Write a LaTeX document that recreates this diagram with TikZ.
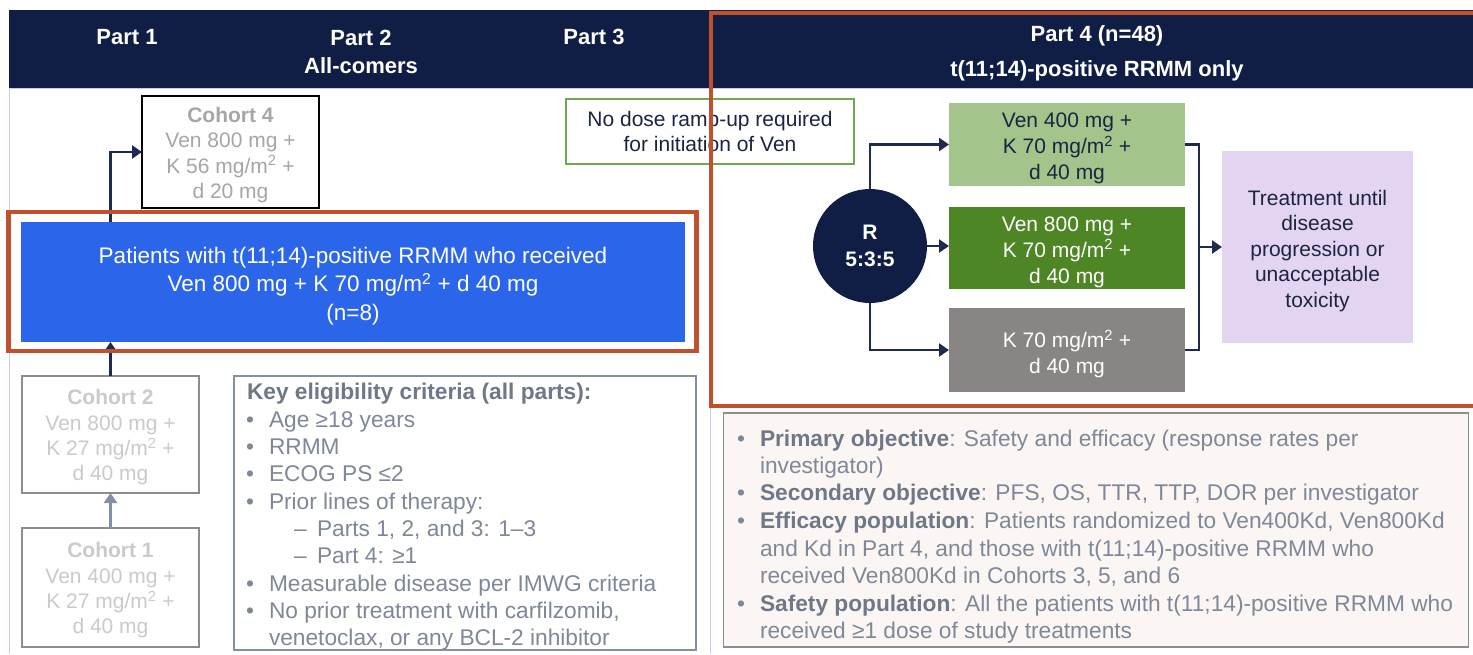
\documentclass[tikz,border=0pt]{standalone}
\usepackage{fontspec}
\setmainfont{Liberation Sans}
\usetikzlibrary{arrows.meta}

\definecolor{navy}{HTML}{101D45}
\definecolor{linknavy}{HTML}{1E2A50}
\definecolor{rust}{HTML}{C1502D}
\definecolor{royal}{HTML}{2B66EA}
\definecolor{sage}{HTML}{A3C48B}
\definecolor{leaf}{HTML}{4E8525}
\definecolor{stone}{HTML}{8A8585}
\definecolor{lilac}{HTML}{E3D4F2}
\definecolor{notegreen}{HTML}{70A852}
\definecolor{framelin}{HTML}{C9CCEA}
\definecolor{slatetext}{HTML}{7E8898}
\definecolor{slatebold}{HTML}{6E7888}
\definecolor{slateline}{HTML}{8290A6}
\definecolor{objfill}{HTML}{FBF6F4}
\definecolor{objline}{HTML}{8E8E8E}
\definecolor{darktext}{HTML}{1B2542}
\definecolor{cohfour}{HTML}{A6A6A6}
\definecolor{cohpale}{HTML}{CACACA}
\definecolor{cohline}{HTML}{8C8C8C}
\definecolor{arrowgray}{HTML}{8090A8}

\begin{document}
\begin{tikzpicture}[x=1pt,y=-1pt,
  every node/.style={inner sep=0pt, outer sep=0pt},
  hdr/.style={font=\fontsize{22}{28}\selectfont\bfseries, text=white, align=center},
  cohortbox/.style={draw, line width=1.2pt, minimum width=177pt},
  cohorttext/.style={align=center, font=\fontsize{21}{25.3}\selectfont, yshift=-3pt},
  armbox/.style={minimum width=236pt},
  armtext/.style={align=center, font=\fontsize{21}{26}\selectfont, yshift=-4pt},
  conn/.style={draw=linknavy, line width=2.4pt, -{Triangle[length=10pt,width=13pt]}},
  joinline/.style={draw=linknavy, line width=2.4pt},
  eline/.style={anchor=base west, font=\fontsize{22.7}{27}\selectfont, text=slatetext},
]
\clip (0,0) rectangle (1473,654);
\fill[white] (0,0) rectangle (1473,654);

% faint table rules
\draw[framelin, line width=1pt] (9,88) -- (9,654);
\draw[framelin, line width=1pt] (9,88) -- (1473,88);
\draw[framelin, line width=1pt] (710,88) -- (710,654);

% header band
\fill[navy] (9,10) rectangle (1473,88);
\node[hdr] (p1) at (127,37) {Part 1};
\node[hdr] (p2) at (361,51.5) {Part 2\\All-comers};
\node[hdr] (p3) at (594,37) {Part 3};
\node[hdr, font=\fontsize{22}{35}\selectfont\bfseries] (p4) at (1097,53)
  {Part 4 (n=48)\\t(11;14)-positive RRMM only};

% left column: cohorts and the Part 2 population
\node[cohortbox, draw=black, minimum height=112pt] (coh4) at (230.5,152) {};
\node[cohorttext, text=cohfour] (coh4t) at (coh4.center)
  {\textbf{Cohort 4}\\Ven 800 mg +\\K 56 mg/m\textsuperscript{2} +\\d 20 mg};
\node[fill=royal, minimum width=664pt, minimum height=120pt] (pop) at (353,282) {};
\node[align=center, text=white, font=\fontsize{22.5}{28.5}\selectfont, yshift=-4pt] (popt) at (pop.center)
  {Patients with t(11;14)-positive RRMM who received\\Ven 800 mg + K 70 mg/m\textsuperscript{2} + d 40 mg\\(n=8)};
\node[cohortbox, draw=cohline, minimum height=117pt] (coh2) at (110.5,434.5) {};
\node[cohorttext, text=cohpale] (coh2t) at (coh2.center)
  {\textbf{Cohort 2}\\Ven 800 mg +\\K 27 mg/m\textsuperscript{2} +\\d 40 mg};
\node[cohortbox, draw=cohline, minimum height=119pt] (coh1) at (110.5,587.5) {};
\node[cohorttext, text=cohpale] (coh1t) at (coh1.center)
  {\textbf{Cohort 1}\\Ven 400 mg +\\K 27 mg/m\textsuperscript{2} +\\d 40 mg};

\draw[conn] (pop.north -| coh2.north) |- (coh4.west);
\draw[conn] (coh2.north) -- (coh2.north |- pop.south);
\draw[conn, draw=arrowgray] (coh1.north) -- (coh2.south);

% eligibility criteria
\node[draw=slateline, line width=1.2pt, minimum width=462pt, minimum height=274pt] (elig) at (465,513) {};
\node[eline, font=\fontsize{22.7}{27}\selectfont\bfseries, text=slatebold] (e0) at (247,399) {Key eligibility criteria (all parts):};
\node[eline] (b1) at (246,427) {•};
\node[eline] (e1) at (269,427) {Age ≥18 years};
\node[eline] (b2) at (246,454) {•};
\node[eline] (e2) at (269,454) {RRMM};
\node[eline] (b3) at (246,481) {•};
\node[eline] (e3) at (269,481) {ECOG PS ≤2};
\node[eline] (b4) at (246,509) {•};
\node[eline] (e4) at (269,509) {Prior lines of therapy:};
\node[eline] (d5) at (294,536) {–};
\node[eline] (e5) at (317,536) {Parts 1, 2, and 3: 1–3};
\node[eline] (d6) at (294,563) {–};
\node[eline] (e6) at (317,563) {Part 4: ≥1};
\node[eline] (b7) at (246,591) {•};
\node[eline] (e7) at (269,591) {Measurable disease per IMWG criteria};
\node[eline] (b8) at (246,618) {•};
\node[eline] (e8) at (269,618) {No prior treatment with carfilzomib,};
\node[eline] (e9) at (269,645) {venetoclax, or any BCL-2 inhibitor};

% note on dosing
\node[draw=notegreen, line width=1.3pt, minimum width=288pt, minimum height=65pt, align=center,
  font=\fontsize{21}{25}\selectfont, text=darktext] (note) at (710,131.5)
  {No dose ramp-up required\\for initiation of Ven};

% Part 4 randomisation
\node[circle, fill=navy, minimum size=114pt, text=white, align=center,
  font=\fontsize{21}{27}\selectfont\bfseries] (rand) at (870,246) {R\\5:3:5};
\node[armbox, fill=sage, minimum height=83pt] (arm1) at (1067,144.5) {};
\node[armtext, text=darktext] (arm1t) at (arm1.center)
  {Ven 400 mg +\\K 70 mg/m\textsuperscript{2} +\\d 40 mg};
\node[armbox, fill=leaf, minimum height=82pt] (arm2) at (1067,248) {};
\node[armtext, text=white] (arm2t) at (arm2.center)
  {Ven 800 mg +\\K 70 mg/m\textsuperscript{2} +\\d 40 mg};
\node[armbox, fill=stone, minimum height=84pt] (arm3) at (1067,350) {};
\node[armtext, text=white] (arm3t) at (arm3.center)
  {K 70 mg/m\textsuperscript{2} +\\d 40 mg};
\node[fill=lilac, minimum width=191pt, minimum height=192pt] (until) at (1317.5,247) {};
\node[align=center, font=\fontsize{21}{25.5}\selectfont, text=darktext, yshift=-4pt] (untilt) at (until.center)
  {Treatment until\\disease\\progression or\\unacceptable\\toxicity};

\draw[conn] (rand.north) |- (arm1.west);
\draw[conn] (rand.east) -- (rand.east -| arm2.west);
\draw[conn] (rand.south) |- (arm3.west);
\draw[joinline] (arm1.east) -- ++(14,0) |- (arm3.east);
\coordinate (merge) at ([xshift=14pt]arm1.east |- until.west);
\draw[conn] (merge) -- (until.west);

% objectives
\node[draw=objline, fill=objfill, line width=1.2pt, minimum width=745pt, minimum height=234pt] (obj) at (1096,530) {};
\node[eline] (ob1) at (737,446) {•};
\node[eline] (o1) at (760,446) {\textbf{\color{slatebold}Primary objective}: Safety and efficacy (response rates per};
\node[eline] (o2) at (760,473) {investigator)};
\node[eline] (ob3) at (737,500) {•};
\node[eline] (o3) at (760,500) {\textbf{\color{slatebold}Secondary objective}: PFS, OS, TTR, TTP, DOR per investigator};
\node[eline] (ob4) at (737,528) {•};
\node[eline] (o4) at (760,528) {\textbf{\color{slatebold}Efficacy population}: Patients randomized to Ven400Kd, Ven800Kd};
\node[eline] (o5) at (760,556) {and Kd in Part 4, and those with t(11;14)-positive RRMM who};
\node[eline] (o6) at (760,583) {received Ven800Kd in Cohorts 3, 5, and 6};
\node[eline] (ob7) at (737,611) {•};
\node[eline] (o7) at (760,611) {\textbf{\color{slatebold}Safety population}: All the patients with t(11;14)-positive RRMM who};
\node[eline] (o8) at (760,638) {received ≥1 dose of study treatments};

% highlight frames
\draw[rust, line width=4.5pt] (711,13) rectangle (1480,406);
\draw[rust, line width=4.5pt] (8.5,212) rectangle (696.5,351);
\end{tikzpicture}
\end{document}
